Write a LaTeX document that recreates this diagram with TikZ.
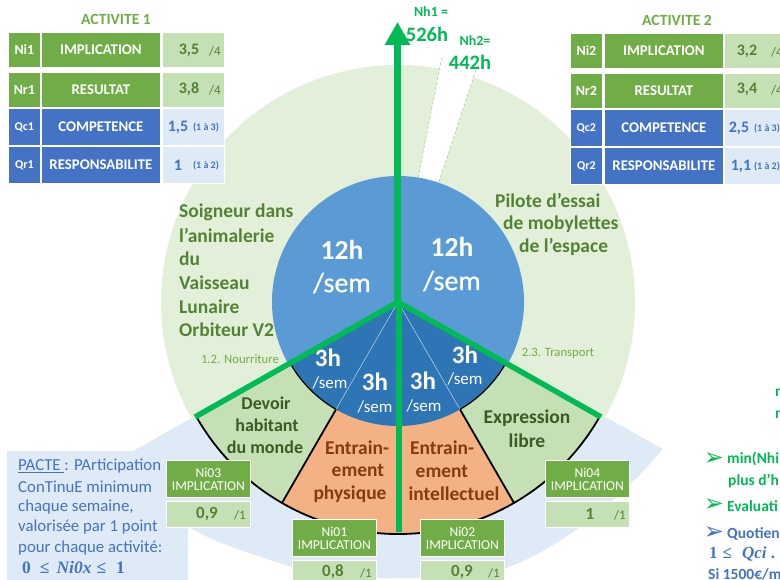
\documentclass[tikz,border=0pt]{standalone}
\usepackage{fontspec}
\setmainfont{Carlito}
\newfontfamily\mathf{Liberation Serif}
\newfontfamily\djv{DejaVu Sans}
\usetikzlibrary{arrows.meta,calc}
\definecolor{gA}{HTML}{70AD47}
\definecolor{gB}{HTML}{C5E0B4}
\definecolor{gC}{HTML}{E2F0D9}
\definecolor{gT}{HTML}{548235}
\definecolor{bA}{HTML}{4472C4}
\definecolor{bB}{HTML}{DEEBF7}
\definecolor{bM}{HTML}{5B9BD5}
\definecolor{bD}{HTML}{2E75B6}
\definecolor{oR}{HTML}{F4B183}
\definecolor{oT}{HTML}{843C0C}
\definecolor{gV}{HTML}{00BA55}
\newcommand{\fsz}[1]{\fontsize{#1}{#1}\selectfont}
\newcommand{\cell}[7]{\node[cellbox,fill=#6,minimum width=#4pt,minimum height=#5pt,anchor=north west] (#1) at (#2,-#3) {#7};}
\newcommand{\clb}[1]{\textbf{\fsz{14.8}#1}}
\newcommand{\cls}[1]{\textbf{\fsz{14}#1}}
\newcommand{\clq}[1]{\textbf{\fsz{12}#1}}
\newcommand{\imp}[1]{\fsz{13.6}#1\\[1pt]\fsz{13.6}IMPLICATION}
\tikzset{
  cellbox/.style={draw=white,line width=0.8pt,inner sep=0pt,align=center,text=white},
  tx/.style={inner sep=0pt,align=center},
  title/.style={tx,font=\fsz{15.6}\bfseries,text=gA},
  job/.style={tx,font=\fsz{19.5}\bfseries,text=gT,anchor=west},
  big/.style={tx,font=\fsz{27.5}\bfseries,text=white},
  bigs/.style={tx,font=\fsz{28}\addfontfeature{FakeBold=0.6},text=white},
  mid/.style={tx,font=\fsz{25}\bfseries,text=white},
  mids/.style={tx,font=\fsz{17},text=white},
  sectg/.style={tx,font=\fsz{18}\bfseries,text=gT!70!black},
  secto/.style={tx,font=\fsz{19.5}\bfseries,text=oT},
  valg/.style={tx,font=\fsz{16}\bfseries,text=gT},
  valgs/.style={tx,font=\fsz{13},text=gT},
  valh/.style={tx,font=\fsz{17}\bfseries,text=gT},
  valb/.style={tx,font=\fsz{16}\bfseries,text=bA},
  valbs/.style={tx,font=\fsz{10}\bfseries,text=bA},
  pact/.style={tx,anchor=west,font=\fsz{16.8},text=bA},
  note/.style={tx,anchor=west,font=\fsz{15.5}\bfseries,text=gV},
  noteb/.style={tx,anchor=west,font=\fsz{15.5}\bfseries,text=bA},
  tip/.style={tx,font=\djv\fsz{24}},
  sub/.style={tx,font=\fsz{12.7},text=gA},
  hrs/.style={tx,font=\fsz{20.5}\bfseries,text=gV},
  hrl/.style={tx,font=\fsz{14}\bfseries,text=gV},
  spoke/.style={gV,line width=5.5pt},
  rim/.style={black,line width=1.8pt},
}
\begin{document}
\begin{tikzpicture}[x=1pt,y=1pt]
\useasboundingbox (0,0) rectangle (780,-580);
\clip (0,0) rectangle (780,-580);
\coordinate (c) at (398,-302);
% pale blue back
\fill[bB] (7,-451) -- (133,-451) -- (398,-302) -- (663,-449)
  .. controls (620,-500) and (565,-545) .. (507,-568)
  .. controls (470,-582) and (330,-582) .. (292,-567)
  .. controls (255,-555) and (220,-545) .. (188,-527)
  -- (188,-580) -- (7,-580) -- cycle;
% pale green ring
\fill[gC] (c) -- ++(-30:237) arc (-30:210:237) -- cycle;
% white wedge
\fill[white] (418,-178) -- (442,-57) -- (476,-70) -- (439,-182) -- cycle;
\draw[gA!70,densely dashed,line width=0.5pt] (418,-178) -- (442,-57);
\draw[gA!70,densely dashed,line width=0.5pt] (439,-182) -- (476,-70);
% inner
\fill[bM] (c) -- ++(-30:126) arc (-30:210:126) -- cycle;
\fill[gB] (c) -- ++(210:232) arc (210:240:232) -- cycle;
\fill[gB] (c) -- ++(-60:232) arc (-60:-30:232) -- cycle;
\fill[oR] (c) -- ++(240:232) arc (240:300:232) -- cycle;
\fill[bD] (c) -- ++(210:124) arc (210:330:124) -- cycle;
\draw[white!70!bD,line width=0.5pt] (c) -- ++(240:124);
\draw[white!70!bD,line width=0.5pt] (c) -- ++(300:124);
\draw[black,line width=1.2pt] ($(c)+(210:124)$) arc (210:240:124);
\draw[black,line width=1.2pt] ($(c)+(300:124)$) arc (300:330:124);
\draw[rim] ($(c)+(210:232)$) arc (210:330:232);
\draw[rim] ($(c)+(240:124)$) -- ($(c)+(240:232)$);
\draw[rim] ($(c)+(300:124)$) -- ($(c)+(300:232)$);
% green spokes
\coordinate (armL) at (195,-417);
\coordinate (armR) at (601,-417);
\coordinate (down) at (399,-532);
\coordinate (top) at (397.5,-22);
\draw[spoke] (c) -- (armL);
\draw[spoke] (c) -- (armR);
\draw[spoke] (399,-302) -- (down);
\draw[spoke,line width=7.5pt,-{Triangle[width=24pt,length=23pt]}] (397.5,-304) -- (top);
% top labels
\node[hrl] (nh1) at (431,-12) {Nh1 =};
\node[hrs] (nh1v) at (427,-34) {526h};
\node[hrl] (nh2) at (475,-41) {Nh2=};
\node[hrs] (nh2v) at (470,-62) {442h};
\node[title] (t1) at (116,-19) {ACTIVITE 1};
\node[title] (t2) at (677,-20) {ACTIVITE 2};
% tables
\cell{a1}{8}{32}{32}{35}{gA}{\cls{Ni1}}
\cell{a2}{41}{32}{119}{35}{gA}{\clb{IMPLICATION}}
\cell{a3}{162}{32}{62}{35}{gB}{}
\cell{b1}{8}{72}{32}{35}{gA}{\cls{Nr1}}
\cell{b2}{41}{72}{119}{35}{gA}{\clb{RESULTAT}}
\cell{b3}{162}{72}{62}{35}{gB}{}
\cell{e1}{8}{108}{32}{37}{bA}{\clq{Qc1}}
\cell{e2}{41}{108}{119}{37}{bA}{\clb{COMPETENCE}}
\cell{e3}{162}{108}{62}{37}{bB}{}
\cell{f1}{8}{146}{32}{37}{bA}{\clq{Qr1}}
\cell{f2}{41}{146}{119}{37}{bA}{\clb{RESPONSABILITE}}
\cell{f3}{162}{146}{62}{37}{bB}{}
\node[valg] (v1) at (189,-50) {3,5}; \node[valgs] (v1s) at (215,-51) {/4};
\node[valg] (v2) at (189,-89) {3,8}; \node[valgs] (v2s) at (215,-90) {/4};
\node[valb] (v3) at (178,-127) {1,5}; \node[valbs] (v3s) at (206,-128) {(1 à 3)};
\node[valb] (v4) at (178,-165) {1}; \node[valbs] (v4s) at (206,-166) {(1 à 2)};
\cell{g1}{570}{33}{32}{35}{gA}{\cls{Ni2}}
\cell{g2}{604}{33}{119}{35}{gA}{\clb{IMPLICATION}}
\cell{g3}{724}{33}{62}{35}{gB}{}
\cell{h1}{570}{73}{32}{35}{gA}{\cls{Nr2}}
\cell{h2}{604}{73}{119}{35}{gA}{\clb{RESULTAT}}
\cell{h3}{724}{73}{62}{35}{gB}{}
\cell{i1}{570}{109}{32}{37}{bA}{\clq{Qc2}}
\cell{i2}{604}{109}{119}{37}{bA}{\clb{COMPETENCE}}
\cell{i3}{724}{109}{62}{37}{bB}{}
\cell{j1}{570}{147}{32}{37}{bA}{\clq{Qr2}}
\cell{j2}{604}{147}{119}{37}{bA}{\clb{RESPONSABILITE}}
\cell{j3}{724}{147}{62}{37}{bB}{}
\node[valg] (w1) at (747,-51) {3,2}; \node[valgs] (w1s) at (777,-52) {/4};
\node[valg] (w2) at (747,-89) {3,4}; \node[valgs] (w2s) at (777,-90) {/4};
\node[valb] (w3) at (739,-128) {2,5}; \node[valbs] (w3s) at (767,-129) {(1 à 3)};
\node[valb] (w4) at (741,-166) {1,1}; \node[valbs] (w4s) at (767,-167) {(1 à 2)};
% activity names
\node[job] (s1) at (179,-212) {Soigneur dans};
\node[job] (s2) at (179,-235) {l’animalerie};
\node[job] (s3) at (179,-259) {du};
\node[job] (s4) at (179,-283) {Vaisseau};
\node[job] (s5) at (179,-307) {Lunaire};
\node[job] (s6) at (179,-330) {Orbiteur V2};
\node[job] (p1) at (495,-200) {Pilote d’essai};
\node[job] (p2) at (503,-224) {de mobylettes};
\node[job] (p3) at (519,-247) {de l’espace};
\node[sub] (n1) at (240,-359) {1.2. Nourriture};
\node[sub] (n2) at (558,-353) {2.3. Transport};
% hours
\node[big] (h12a) at (342,-250) {12h}; \node[bigs] (sa) at (342,-283) {/sem};
\node[big] (h12b) at (452,-247) {12h}; \node[bigs] (sb) at (452,-281) {/sem};
\node[mid] (m1) at (328,-358) {3h}; \node[mids] (m1s) at (330,-383) {/sem};
\node[mid] (m2) at (375,-382) {3h}; \node[mids] (m2s) at (375,-407) {/sem};
\node[mid] (m3) at (423,-381) {3h}; \node[mids] (m3s) at (424,-406) {/sem};
\node[mid] (m4) at (465,-355) {3h}; \node[mids] (m4s) at (465,-379) {/sem};
% sectors text
\node[sectg] (d1) at (266,-403) {Devoir};
\node[sectg] (d2) at (267,-425) {habitant};
\node[sectg] (d3) at (265,-447) {du monde};
\node[secto] (o1) at (357,-448) {Entrain-};
\node[secto] (o2) at (358,-470) {ement};
\node[secto] (o3) at (350,-494) {physique};
\node[secto] (q1) at (442,-448) {Entrain-};
\node[secto] (q2) at (442,-471) {ement};
\node[secto] (q3) at (454,-494) {intellectuel};
\node[sectg,font=\fsz{19.5}\bfseries] (x1) at (527,-418) {Expression};
\node[sectg,font=\fsz{19.5}\bfseries] (x2) at (527,-441) {libre};
% small boxes
\cell{k1}{166}{460}{84}{37}{gA}{\imp{Ni03}}
\cell{k2}{166}{501}{84}{26}{gB}{}
\cell{l1}{292}{519}{84}{37}{gA}{\imp{Ni01}}
\cell{l2}{292}{560}{84}{26}{gB}{}
\cell{r1}{420}{519}{84}{37}{gA}{\imp{Ni02}}
\cell{r2}{420}{560}{84}{26}{gB}{}
\cell{u1}{545}{460}{84}{37}{gA}{\imp{Ni04}}
\cell{u2}{545}{501}{84}{26}{gB}{}
\node[valh] (y1) at (207,-514) {0,9}; \node[valgs] (y1s) at (240,-515) {/1};
\node[valh] (y2) at (333,-572) {0,8}; \node[valgs] (y2s) at (366,-573) {/1};
\node[valh] (y3) at (462,-572) {0,9}; \node[valgs] (y3s) at (494,-573) {/1};
\node[valh] (y4) at (590,-514) {1}; \node[valgs] (y4s) at (620,-515) {/1};
% pacte
\node[pact] (pa1) at (18,-466) {\underline{PACTE }: PArticipation};
\node[pact] (pa2) at (18,-487) {ConTinuE minimum};
\node[pact] (pa3) at (18,-507) {chaque semaine,};
\node[pact] (pa4) at (18,-527) {valorisée par 1 point};
\node[pact] (pa5) at (18,-548) {pour chaque activité:};
\node[pact,font=\mathf\fsz{17.5}\bfseries] (pa6) at (22,-568) {0\hspace{9pt}≤\hspace{7pt}\textit{Ni0x}\hspace{5pt}≤\hspace{10pt}1};
% right text
\node[note] (r01) at (775,-393) {n};
\node[note] (r02) at (775,-415) {n};
\node[tip,text=gV] (b1) at (714,-459) {➢};
\node[note] (r1) at (727,-459) {min(Nhi};
\node[note] (r2) at (728,-481) {plus d’h};
\node[tip,text=gV] (b2) at (714,-505) {➢};
\node[note] (r3) at (727,-506) {Evaluati};
\node[tip,text=bA] (b3) at (714,-533) {➢};
\node[noteb] (r4) at (727,-534) {Quotien};
\node[noteb,font=\mathf\fsz{17}\bfseries] (r5) at (709,-554) {1\hspace{5pt}≤\hspace{10pt}\textit{Qci} .};
\node[noteb] (r6) at (708,-574) {Si 1500€/m};
\end{tikzpicture}
\end{document}
